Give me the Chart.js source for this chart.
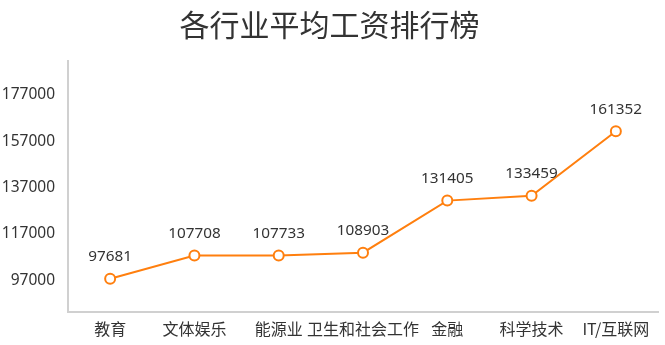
<!DOCTYPE html>
<html>
<head>
<meta charset="utf-8">
<title>各行业平均工资排行榜</title>
<script src="https://cdn.jsdelivr.net/npm/chart.js@4/dist/chart.umd.min.js"></script>
<style>
  html, body { margin: 0; padding: 0; background: #ffffff; }
  #wrap { width: 665px; height: 345px; }
</style>
</head>
<body>
<div id="wrap"><canvas id="chart" width="665" height="345"></canvas></div>
<script>
// Industries and their average annual wage
const industries = ['教育', '文体娱乐', '能源业', '卫生和社会工作', '金融', '科学技术', 'IT/互联网'];
const avgWages = [97681, 107708, 107733, 108903, 131405, 133459, 161352];
const yTickValues = [97000, 117000, 137000, 157000, 177000];

const lineColor = '#ff7f0e';
const textColor = '#333333';
const cjkFont = '"Noto Sans CJK SC", "Noto Sans", sans-serif';
const numFont = '"Noto Sans", "Noto Sans CJK SC", sans-serif';

// Writes each point's value just above its marker
const valueLabels = {
  id: 'valueLabels',
  afterDatasetsDraw(chart) {
    const { ctx } = chart;
    const meta = chart.getDatasetMeta(0);
    const values = chart.data.datasets[0].data;
    ctx.save();
    ctx.font = '15.3px ' + numFont;
    ctx.fillStyle = textColor;
    ctx.textAlign = 'center';
    ctx.textBaseline = 'middle';
    meta.data.forEach((pt, i) => {
      ctx.fillText(String(values[i]), pt.x, pt.y - 22);
    });
    ctx.restore();
  }
};

new Chart(document.getElementById('chart'), {
  type: 'line',
  data: {
    labels: industries,
    datasets: [{
      data: avgWages,
      borderColor: lineColor,
      borderWidth: 2,
      pointRadius: 5,
      pointBorderWidth: 2,
      pointBackgroundColor: '#ffffff',
      pointBorderColor: lineColor,
      tension: 0,
      fill: false
    }]
  },
  options: {
    responsive: false,
    animation: false,
    layout: { padding: { left: 0, right: 6, top: 0, bottom: 0 } },
    plugins: {
      legend: { display: false },
      tooltip: { enabled: false },
      title: {
        display: true,
        text: '各行业平均工资排行榜',
        color: textColor,
        font: { family: cjkFont, size: 30, weight: 'normal', lineHeight: 1.2 },
        padding: { top: 7, bottom: 18 }
      }
    },
    scales: {
      x: {
        offset: true,
        grid: { display: false, drawTicks: false },
        border: { display: true, color: '#d0d0d0', width: 2 },
        ticks: {
          color: textColor,
          padding: 7,
          maxRotation: 0,
          autoSkip: false,
          font: { family: cjkFont, size: 16 }
        },
        afterFit(axis) { axis.height = 33; }
      },
      y: {
        min: 83300,
        max: 191700,
        grid: { display: false, drawTicks: false },
        border: { display: true, color: '#d0d0d0', width: 2 },
        ticks: {
          color: textColor,
          padding: 13,
          font: { family: numFont, size: 15.5 },
          callback: (value) => String(value)
        },
        afterBuildTicks(axis) {
          axis.ticks = yTickValues.map(v => ({ value: v }));
        },
        afterFit(axis) { axis.width = 68; }
      }
    }
  },
  plugins: [valueLabels]
});
</script>
</body>
</html>
